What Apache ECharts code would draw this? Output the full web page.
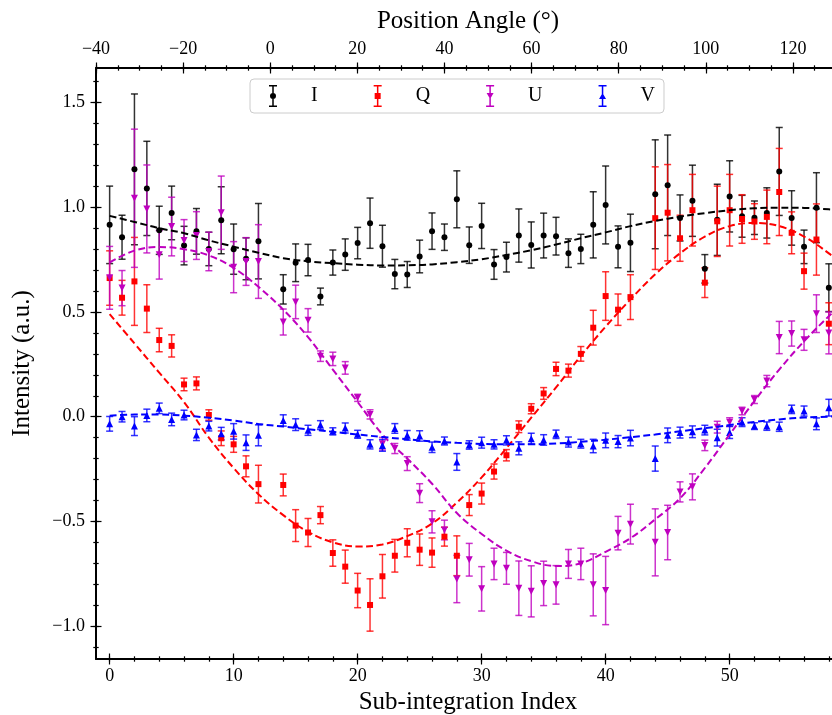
<!DOCTYPE html>
<html>
<head>
<meta charset="utf-8">
<script src="https://cdn.jsdelivr.net/npm/echarts@6/dist/echarts.min.js"></script>
<style>html,body{margin:0;padding:0;background:#fff;}#c{width:832px;height:715px;}</style>
</head>
<body>
<div id="c"></div>
<script>
// ---------- data ----------
const subIndex = [0,1,2,3,4,5,6,7,8,9,10,11,12,14,15,16,17,18,19,20,21,22,23,24,25,26,27,28,29,30,31,32,33,34,35,36,37,38,39,40,41,42,44,45,46,47,48,49,50,51,52,53,54,55,56,57,58];

const iVal = [0.916,0.857,1.181,1.090,0.890,0.973,0.817,0.885,0.801,0.938,0.800,0.754,0.838,0.608,0.735,0.748,0.574,0.736,0.774,0.829,0.924,0.814,0.681,0.679,0.765,0.886,0.857,1.038,0.819,0.911,0.727,0.762,0.865,0.820,0.865,0.862,0.781,0.801,0.916,1.011,0.811,0.830,1.062,1.105,0.949,1.031,0.706,0.940,1.052,0.957,0.950,0.973,1.171,0.949,0.811,0.998,0.616];
const iErr = [0.185,0.105,0.360,0.225,0.115,0.128,0.092,0.109,0.080,0.160,0.120,0.100,0.180,0.070,0.090,0.075,0.040,0.060,0.075,0.075,0.120,0.100,0.070,0.062,0.078,0.087,0.063,0.136,0.087,0.108,0.071,0.071,0.127,0.110,0.107,0.090,0.068,0.070,0.158,0.186,0.100,0.137,0.260,0.240,0.110,0.170,0.068,0.170,0.170,0.100,0.080,0.120,0.210,0.130,0.080,0.167,0.114];

const qVal = [0.662,0.568,0.646,0.516,0.366,0.338,0.154,0.159,0.008,-0.103,-0.132,-0.237,-0.322,-0.326,-0.520,-0.553,-0.470,-0.651,-0.716,-0.830,-0.899,-0.762,-0.664,-0.602,-0.635,-0.649,-0.573,-0.664,-0.422,-0.367,-0.262,-0.184,-0.048,0.038,0.111,0.228,0.220,0.300,0.425,0.576,0.511,0.571,0.948,0.974,0.852,0.986,0.640,0.933,0.986,0.944,0.932,0.954,1.073,0.878,0.695,0.846,0.444];
const qErr = [0.130,0.083,0.210,0.114,0.056,0.053,0.030,0.031,0.025,0.035,0.038,0.050,0.090,0.052,0.076,0.067,0.041,0.063,0.079,0.082,0.125,0.104,0.078,0.067,0.075,0.070,0.045,0.095,0.050,0.050,0.036,0.027,0.028,0.024,0.028,0.032,0.031,0.035,0.083,0.116,0.075,0.107,0.245,0.230,0.110,0.171,0.071,0.168,0.171,0.116,0.085,0.128,0.208,0.100,0.086,0.170,0.100];

const uVal = [0.663,0.614,1.043,0.992,0.773,0.908,0.841,0.865,0.789,0.974,0.714,0.741,0.741,0.452,0.548,0.460,0.289,0.276,0.233,0.090,0.011,-0.129,-0.152,-0.224,-0.365,-0.502,-0.541,-0.775,-0.683,-0.822,-0.703,-0.724,-0.819,-0.834,-0.796,-0.803,-0.703,-0.703,-0.803,-0.830,-0.556,-0.513,-0.600,-0.553,-0.359,-0.335,-0.137,-0.050,-0.026,0.027,0.082,0.170,0.378,0.397,0.367,0.492,0.400];
const uErr = [0.150,0.084,0.330,0.210,0.116,0.140,0.100,0.114,0.092,0.175,0.122,0.114,0.176,0.062,0.080,0.056,0.025,0.032,0.030,0.017,0.022,0.030,0.024,0.033,0.045,0.053,0.047,0.113,0.078,0.106,0.075,0.076,0.130,0.122,0.106,0.092,0.069,0.075,0.148,0.163,0.080,0.095,0.160,0.130,0.048,0.062,0.025,0.028,0.021,0.018,0.019,0.027,0.077,0.060,0.050,0.090,0.100];

const vVal = [-0.034,0.000,-0.045,0.006,0.040,-0.013,0.008,-0.087,-0.045,-0.081,-0.070,-0.124,-0.089,-0.018,-0.038,-0.065,-0.040,-0.070,-0.054,-0.084,-0.132,-0.137,-0.056,-0.089,-0.092,-0.146,-0.116,-0.216,-0.135,-0.124,-0.132,-0.113,-0.151,-0.105,-0.111,-0.084,-0.121,-0.129,-0.140,-0.113,-0.119,-0.102,-0.200,-0.089,-0.076,-0.072,-0.064,-0.100,-0.075,-0.026,-0.045,-0.045,-0.048,0.035,0.027,-0.034,0.043];
const vErr = [0.035,0.025,0.045,0.030,0.025,0.030,0.023,0.027,0.023,0.030,0.037,0.037,0.050,0.027,0.028,0.024,0.021,0.017,0.024,0.019,0.022,0.028,0.023,0.023,0.025,0.025,0.019,0.040,0.020,0.026,0.022,0.022,0.031,0.026,0.025,0.020,0.024,0.021,0.032,0.035,0.029,0.037,0.060,0.035,0.026,0.028,0.023,0.040,0.029,0.021,0.016,0.020,0.022,0.020,0.024,0.028,0.040];

// fitted model curves, read at every second sub-integration (last point just past the frame edge)
const fitIndex = [0,2,4,6,8,10,12,14,16,18,20,22,24,26,28,30,32,34,36,38,40,42,44,46,48,50,52,54,56,58,59];
const iFit = [0.959,0.930,0.900,0.876,0.842,0.812,0.783,0.757,0.742,0.733,0.726,0.722,0.723,0.727,0.738,0.752,0.772,0.795,0.822,0.852,0.880,0.910,0.935,0.955,0.972,0.986,0.995,0.998,0.997,0.990,0.985];
const qFit = [0.490,0.350,0.210,0.070,-0.100,-0.245,-0.370,-0.470,-0.550,-0.600,-0.620,-0.610,-0.570,-0.510,-0.410,-0.290,-0.150,-0.005,0.140,0.290,0.430,0.560,0.680,0.780,0.860,0.910,0.925,0.910,0.860,0.780,0.730];
const uFit = [0.736,0.793,0.810,0.800,0.770,0.710,0.620,0.511,0.380,0.225,0.070,-0.085,-0.200,-0.320,-0.460,-0.560,-0.640,-0.690,-0.713,-0.700,-0.645,-0.580,-0.490,-0.390,-0.245,-0.085,0.075,0.225,0.360,0.480,0.535];
const vFit = [0.005,0.010,0.010,0.005,-0.005,-0.018,-0.035,-0.047,-0.060,-0.072,-0.085,-0.097,-0.108,-0.118,-0.125,-0.130,-0.132,-0.132,-0.128,-0.120,-0.110,-0.098,-0.085,-0.070,-0.055,-0.040,-0.025,-0.013,-0.004,0.000,0.002];

// tick labels
const yTicks = [-1.0,-0.5,0.0,0.5,1.0,1.5];
const xTicks = [0,10,20,30,40,50];
const paTicks = [-40,-20,0,20,40,60,80,100,120];

// ---------- chart ----------
const FONT = 'Liberation Serif';
const COLORS = {I:'#000000', Q:'#ff0000', U:'#bf00bf', V:'#0000ff'};
const minus = v => (v < 0 ? '\u2212' : '') + Math.abs(v);
const yFmt = v => (v < 0 ? '\u2212' : '') + Math.abs(v).toFixed(1);

function range(a, b, step) { const r = []; for (let v = a; v <= b + 1e-9; v += step) r.push(Math.round(v * 1000) / 1000); return r; }
const yMinor = range(-1.1, 1.6, 0.1);
const xMinor = range(0, 58, 2);
const paMinor = range(-40, 130, 5);

const X_MIN = -1.1, X_MAX = 58.9, PA_MIN = -40, PA_MAX = 130.8, Y_MIN = -1.157, Y_MAX = 1.665;

function tuple(vals, errs) { return subIndex.map((x, k) => [x, vals[k], errs[k]]); }
function pairs(xs, ys) { return xs.map((x, k) => [x, ys[k]]); }

function errSeries(name, color, vals, errs) {
  return {
    name: name + ' err', type: 'custom', xAxisIndex: 0, yAxisIndex: 0,
    data: tuple(vals, errs),
    renderItem: function (params, api) {
      const x = api.value(0), y = api.value(1), e = api.value(2);
      const t = api.coord([x, y + e]), b = api.coord([x, y - e]);
      const hw = 3.5;
      const st = {stroke: color, lineWidth: 1.5, opacity: 0.8};
      return {type: 'group', children: [
        {type: 'line', shape: {x1: t[0], y1: t[1], x2: b[0], y2: b[1]}, style: st},
        {type: 'line', shape: {x1: t[0] - hw, y1: t[1], x2: t[0] + hw, y2: t[1]}, style: st},
        {type: 'line', shape: {x1: b[0] - hw, y1: b[1], x2: b[0] + hw, y2: b[1]}, style: st}
      ]};
    }
  };
}
function markSeries(name, color, vals, symbol, size, rot) {
  return {
    name: name, type: 'scatter', xAxisIndex: 0, yAxisIndex: 0,
    data: subIndex.map((x, k) => [x, vals[k]]),
    symbol: symbol, symbolSize: size, symbolRotate: rot || 0,
    itemStyle: {color: color, opacity: 1}, emphasis: {disabled: true}
  };
}
function fitSeries(name, color, ys) {
  return {
    name: name + ' fit', type: 'line', xAxisIndex: 0, yAxisIndex: 0,
    data: pairs(fitIndex, ys), smooth: 0.4, symbol: 'none', z: 5,
    lineStyle: {color: color, width: 2, type: [7, 3.5]}
  };
}

const capPath = 'M1,0H9V1.5H1Z M4.25,0H5.75V22H4.25Z M1,20.5H9V22H1Z ';
const icons = {
  I: 'path://' + capPath + 'M2,11A3,3 0 1,1 8,11A3,3 0 1,1 2,11Z',
  Q: 'path://' + capPath + 'M2,8H8V14H2Z',
  U: 'path://' + capPath + 'M1.5,8H8.5L5,14Z',
  V: 'path://' + capPath + 'M5,8L8.5,14H1.5Z'
};

function tickAxisX(pos, min, max, values, off, len) {
  return {type: 'value', position: pos, min: min, max: max, offset: off,
    axisLine: {show: false, onZero: false}, splitLine: {show: false},
    axisLabel: {show: false},
    axisTick: {show: true, customValues: values, length: len, lineStyle: {color: '#000', width: 1.2}}};
}
function tickAxisY(values, off, len) {
  return {type: 'value', position: 'left', min: Y_MIN, max: Y_MAX, offset: off,
    axisLine: {show: false, onZero: false}, splitLine: {show: false},
    axisLabel: {show: false},
    axisTick: {show: true, customValues: values, length: len, lineStyle: {color: '#000', width: 1.2}}};
}

const chart = echarts.init(document.getElementById('c'), null, {renderer: 'canvas'});
chart.setOption({
  animation: false,
  backgroundColor: '#ffffff',
  grid: {left: 96, top: 68, width: 744, height: 591, containLabel: false, outerBoundsMode: 'none'},
  legend: {
    left: 250, top: 79, padding: [6, 9, 6, 19],
    itemWidth: 20, itemHeight: 22, itemGap: 56,
    borderColor: '#cccccc', borderWidth: 1, borderRadius: 4,
    backgroundColor: 'rgba(255,255,255,0.8)',
    selectedMode: false,
    data: ['I', 'Q', 'U', 'V'].map(n => ({name: n, icon: icons[n], itemStyle: {color: COLORS[n]}})),
    formatter: n => '{t|' + n + '}',
    textStyle: {fontFamily: FONT, fontSize: 20, color: '#000',
      rich: {t: {fontFamily: FONT, fontSize: 20, color: '#000', padding: [0, 0, 0, 23]}}}
  },
  xAxis: [
    {type: 'value', position: 'bottom', min: X_MIN, max: X_MAX,
      axisLine: {show: true, onZero: false, lineStyle: {color: '#000', width: 2}},
      axisTick: {show: false}, splitLine: {show: false},
      axisLabel: {customValues: xTicks, formatter: minus, fontFamily: FONT, fontSize: 18, color: '#000', margin: 8},
      name: 'Sub-integration Index', nameLocation: 'middle', nameGap: 31,
      nameTextStyle: {fontFamily: FONT, fontSize: 25, color: '#000'}},
    tickAxisX('bottom', X_MIN, X_MAX, xTicks, -5.5, 11),
    tickAxisX('bottom', X_MIN, X_MAX, xMinor, -2.7, 5.4),
    {type: 'value', position: 'top', min: PA_MIN, max: PA_MAX,
      axisLine: {show: true, onZero: false, lineStyle: {color: '#000', width: 2}},
      axisTick: {show: false}, splitLine: {show: false},
      axisLabel: {customValues: paTicks, formatter: minus, fontFamily: FONT, fontSize: 18, color: '#000', margin: 10},
      name: 'Position Angle (\u00b0)', nameLocation: 'middle', nameGap: 34,
      nameTextStyle: {fontFamily: FONT, fontSize: 25, color: '#000'}},
    tickAxisX('top', PA_MIN, PA_MAX, paTicks, -5.5, 11),
    tickAxisX('top', PA_MIN, PA_MAX, paMinor, -2.7, 5.4)
  ],
  yAxis: [
    {type: 'value', position: 'left', min: Y_MIN, max: Y_MAX,
      axisLine: {show: true, onZero: false, lineStyle: {color: '#000', width: 2}},
      axisTick: {show: false}, splitLine: {show: false},
      axisLabel: {customValues: yTicks, formatter: yFmt, fontFamily: FONT, fontSize: 18, color: '#000', margin: 11},
      name: 'Intensity (a.u.)', nameLocation: 'middle', nameGap: 61,
      nameTextStyle: {fontFamily: FONT, fontSize: 25, color: '#000'}},
    tickAxisY(yTicks, -5.5, 11),
    tickAxisY(yMinor, -2.7, 5.4)
  ],
  series: [
    errSeries('I', COLORS.I, iVal, iErr),
    markSeries('I', COLORS.I, iVal, 'circle', 6),
    errSeries('Q', COLORS.Q, qVal, qErr),
    markSeries('Q', COLORS.Q, qVal, 'rect', 6),
    errSeries('U', COLORS.U, uVal, uErr),
    markSeries('U', COLORS.U, uVal, 'triangle', 7, 180),
    errSeries('V', COLORS.V, vVal, vErr),
    markSeries('V', COLORS.V, vVal, 'triangle', 7),
    fitSeries('I', COLORS.I, iFit),
    fitSeries('Q', COLORS.Q, qFit),
    fitSeries('U', COLORS.U, uFit),
    fitSeries('V', COLORS.V, vFit)
  ]
});
</script>
</body>
</html>
